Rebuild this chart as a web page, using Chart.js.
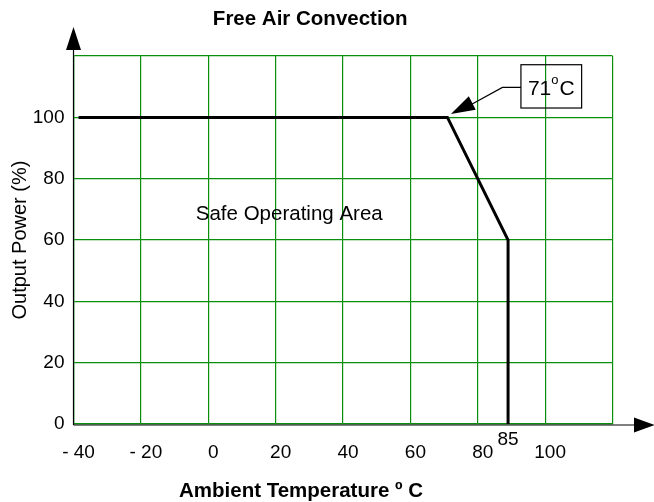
<!DOCTYPE html>
<html>
<head>
<meta charset="utf-8">
<script src="https://cdn.jsdelivr.net/npm/chart.js@4/dist/chart.umd.min.js"></script>
<style>
  html, body { margin: 0; padding: 0; background: #fff; }
  #wrap { width: 654px; height: 502px; }
</style>
</head>
<body>
<div id="wrap"><canvas id="derating"></canvas></div>
<script>
// derating curve (x in deg C, y in %)
const temps = [-38.5, 71, 89, 89];
const power = [100, 100, 60, 0];

const xMin = -40, xMax = 120, xStep = 20;
const yMin = 0, yMax = 120, yStep = 20;

const kneeLabel = "71";
const dropLabel = "85";
const areaLabel = "Safe Operating Area";
const xTitle = "Ambient Temperature º C";

const green = "#0a8f0a";
const font = "'Liberation Sans', Arial, sans-serif";

const points = temps.map((t, i) => ({ x: t, y: power[i] }));

function arrow(ctx, x1, y1, x2, y2, len, half) {
  const a = Math.atan2(y2 - y1, x2 - x1);
  ctx.beginPath();
  ctx.moveTo(x2, y2);
  ctx.lineTo(x2 - len * Math.cos(a) + half * Math.sin(a), y2 - len * Math.sin(a) - half * Math.cos(a));
  ctx.lineTo(x2 - len * Math.cos(a) - half * Math.sin(a), y2 - len * Math.sin(a) + half * Math.cos(a));
  ctx.closePath();
  ctx.fill();
}

const extras = {
  id: "extras",
  afterDraw(c) {
    const ctx = c.ctx;
    const xs = c.scales.x, ys = c.scales.y;
    const area = c.chartArea;
    ctx.save();
    ctx.fillStyle = "#000";
    ctx.strokeStyle = "#000";

    // axes with arrows
    ctx.lineWidth = 1.2;
    ctx.beginPath();
    ctx.moveTo(area.left, area.bottom + 1);
    ctx.lineTo(c.width - 4, area.bottom + 1);
    ctx.moveTo(area.left, area.bottom + 1);
    ctx.lineTo(area.left, 40);
    ctx.stroke();
    arrow(ctx, area.left, 60, area.left, 27, 23, 7.5);
    arrow(ctx, 600, area.bottom + 1, c.width + 1, area.bottom + 1, 21, 7.5);

    // 85 mark under the drop
    ctx.font = "19px " + font;
    ctx.textAlign = "center";
    ctx.textBaseline = "middle";
    ctx.fillText(dropLabel, xs.getPixelForValue(temps[2]), area.bottom + 16);

    // x axis title, sits left of the plot centre in the original
    ctx.font = "bold 20.5px " + font;
    ctx.fillText(xTitle, 301, 491);

    // area text
    ctx.font = "20.5px " + font;
    ctx.textAlign = "left";
    ctx.textBaseline = "alphabetic";
    ctx.fillText(areaLabel, xs.getPixelForValue(-3.7), ys.getPixelForValue(66.4));

    // 71 C callout
    const kx = xs.getPixelForValue(temps[1]);
    const ky = ys.getPixelForValue(power[1]);
    const bx = kx + 73.5, by = ky - 52.7, bw = 60.7, bh = 43.3;
    ctx.lineWidth = 1.2;
    ctx.strokeRect(bx, by, bw, bh);
    ctx.beginPath();
    ctx.moveTo(bx, by + 22.7);
    ctx.lineTo(bx - 18.5, by + 22.7);
    ctx.lineTo(kx + 22, ky - 12);
    ctx.stroke();
    arrow(ctx, bx - 18.5, by + 22.7, kx + 3.5, ky - 3.4, 24, 7.5);

    ctx.font = "21px " + font;
    ctx.fillText(kneeLabel, bx + 7, by + 30);
    const w = ctx.measureText(kneeLabel).width;
    ctx.font = "13px " + font;
    ctx.fillText("o", bx + 7 + w, by + 19);
    const w2 = ctx.measureText("o").width;
    ctx.font = "21px " + font;
    ctx.fillText("C", bx + 7 + w + w2 + 1, by + 30);

    ctx.restore();
  }
};

new Chart(document.getElementById("derating"), {
  type: "scatter",
  data: {
    datasets: [{
      data: points,
      showLine: true,
      borderColor: "#000",
      backgroundColor: "#000",
      borderWidth: 3,
      pointRadius: 0,
      pointHoverRadius: 0
    }]
  },
  options: {
    responsive: true,
    maintainAspectRatio: false,
    animation: false,
    events: [],
    layout: { padding: { left: 8, right: 41.5, top: 0, bottom: 0 } },
    plugins: {
      legend: { display: false },
      tooltip: { enabled: false },
      title: {
        display: true,
        text: "Free Air Convection",
        color: "#000",
        font: { family: font, size: 20.5, weight: "bold", lineHeight: 1.2 },
        padding: { top: 7, bottom: 24.5 }
      }
    },
    scales: {
      x: {
        type: "linear",
        min: xMin,
        max: xMax,
        afterFit: s => { s.height = 78; },
        grid: { color: green, lineWidth: 1.2, drawTicks: false },
        border: { display: true, color: green, width: 1.2 },
        ticks: {
          stepSize: xStep,
          color: "#000",
          padding: 17.5,
          labelOffset: 5,
          maxRotation: 0,
          font: { family: font, size: 19 },
          callback: v => v === xMax ? "" : (v < 0 ? "- " + (-v) : String(v))
        },
        title: { display: false }
      },
      y: {
        min: yMin,
        max: yMax,
        afterFit: s => { s.width = 65.5; },
        grid: { color: green, lineWidth: 1.2, drawTicks: false },
        border: { display: true, color: green, width: 1.2 },
        ticks: {
          stepSize: yStep,
          color: "#000",
          padding: 9,
          font: { family: font, size: 19 },
          callback: v => v === yMax ? "" : String(v)
        },
        title: {
          display: true,
          text: "Output Power (%)",
          color: "#000",
          font: { family: font, size: 20, lineHeight: 1.2 },
          padding: { top: 0, bottom: 0 }
        }
      }
    }
  },
  plugins: [extras]
});
</script>
</body>
</html>
